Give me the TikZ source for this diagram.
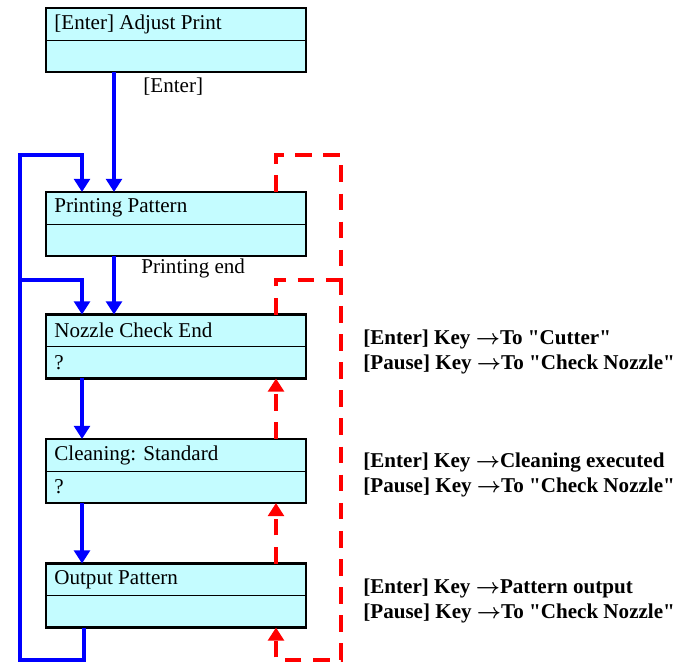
\documentclass[tikz,border=0pt]{standalone}
\usepackage{fontspec}
\usepackage{bm}
\setmainfont{Liberation Serif}[Ligatures=TeXOff]
\usetikzlibrary{positioning,arrows.meta,calc}

\definecolor{panelfill}{RGB}{196,252,255}
\newcommand{\keyarrow}{$\bm{\rightarrow}$}

\tikzset{
    panel/.style={draw=black, line width=1.5pt, fill=panelfill, minimum width=5.2cm, minimum height=1.28cm, inner sep=0pt, outer sep=0pt},
    paneltext/.style={anchor=west, inner sep=0pt, font=\fontsize{12}{14}\selectfont},
    flowlbl/.style={anchor=west, inner sep=0pt, font=\fontsize{12}{14}\selectfont},
    keytext/.style={anchor=west, align=left, inner sep=0pt, font=\fontsize{12}{14.2}\selectfont\bfseries},
    flow/.style={blue, line width=1.9pt, -{Triangle[length=7.5pt,width=9pt]}},
    redline/.style={red, line width=1.9pt, dash pattern=on 9.5pt off 6.5pt},
    redarrow/.style={redline, -{Triangle[length=7.5pt,width=9pt]}}
}

\begin{document}
\begin{tikzpicture}[x=0.02cm, y=-0.02cm]
        \useasboundingbox (0,0) rectangle (685,662);

        % Anzeigen
        \node[panel] (adjust) at (176,40) {};
        \node[panel] (printpat) at (176,224) {};
        \node[panel] (nozzle) at (176,346.5) {};
        \node[panel] (clean) at (176,471) {};
        \node[panel] (output) at (176,595.5) {};
        \foreach \p in {adjust,printpat,nozzle,clean,output}
            \draw[line width=0.5pt] (\p.west) -- (\p.east);

        \node[paneltext] (adjusttxt) at (54,24) {[Enter] Adjust Print};
        \node[paneltext] (printpattxt) at (54,208) {Printing Pattern};
        \node[paneltext] (nozzletxt) at (54,330.5) {Nozzle Check End};
        \node[paneltext] (nozzleq) at (54,362.5) {?};
        \node[paneltext] (cleantxt) at (54,455) {Cleaning: Standard};
        \node[paneltext] (cleanq) at (54,487) {?};
        \node[paneltext] (outputtxt) at (54,579.5) {Output Pattern};

        % Hauptablauf
        \draw[flow] (114,0 |- adjust.south) -- (114,0 |- printpat.north);
        \node[flowlbl] (enterlbl) at (143,87) {[Enter]};
        \draw[flow] (114,0 |- printpat.south) -- (114,0 |- nozzle.north);
        \node[flowlbl] (printendlbl) at (141,268) {Printing end};
        \draw[flow] (82,0 |- nozzle.south) -- (82,0 |- clean.north);
        \draw[flow] (82,0 |- clean.south) -- (82,0 |- output.north);

        % Schleife links
        \coordinate (loopbot) at (84,660);
        \coordinate (looptop) at (20,155);
        \coordinate (loopmid) at (20,280);
        \draw[flow] (84,0 |- output.south) -- (loopbot) -- (20,660) -- (looptop) -- (82,155) -- (82,0 |- printpat.north);
        \draw[flow] (loopmid) -- (82,280) -- (82,0 |- nozzle.north);

        % Pause-Pfade
        \coordinate (backtop) at (341,155);
        \coordinate (backmid) at (341,280);
        \coordinate (backbot) at (341,660);
        \draw[redarrow] (276,0 |- printpat.north) -- (276,155) -- (backtop) -- (backbot) -- (276,660) -- (276,0 |- output.south);
        \draw[redline] (276,0 |- nozzle.north) -- (276,280) -- (backmid);
        \draw[redarrow] (276,0 |- clean.north) -- (276,0 |- nozzle.south);
        \draw[redarrow] (276,0 |- output.north) -- (276,0 |- clean.south);

        % Tasten
        \node[keytext] (nozzlekeys) at (363,352) {[Enter] Key \keyarrow To "Cutter"\\\relax[Pause] Key \keyarrow To "Check Nozzle"};
        \node[keytext] (cleankeys) at (363,475) {[Enter] Key \keyarrow Cleaning executed\\\relax[Pause] Key \keyarrow To "Check Nozzle"};
        \node[keytext] (outputkeys) at (363,601) {[Enter] Key \keyarrow Pattern output\\\relax[Pause] Key \keyarrow To "Check Nozzle"};

    \end{tikzpicture}
\end{document}
